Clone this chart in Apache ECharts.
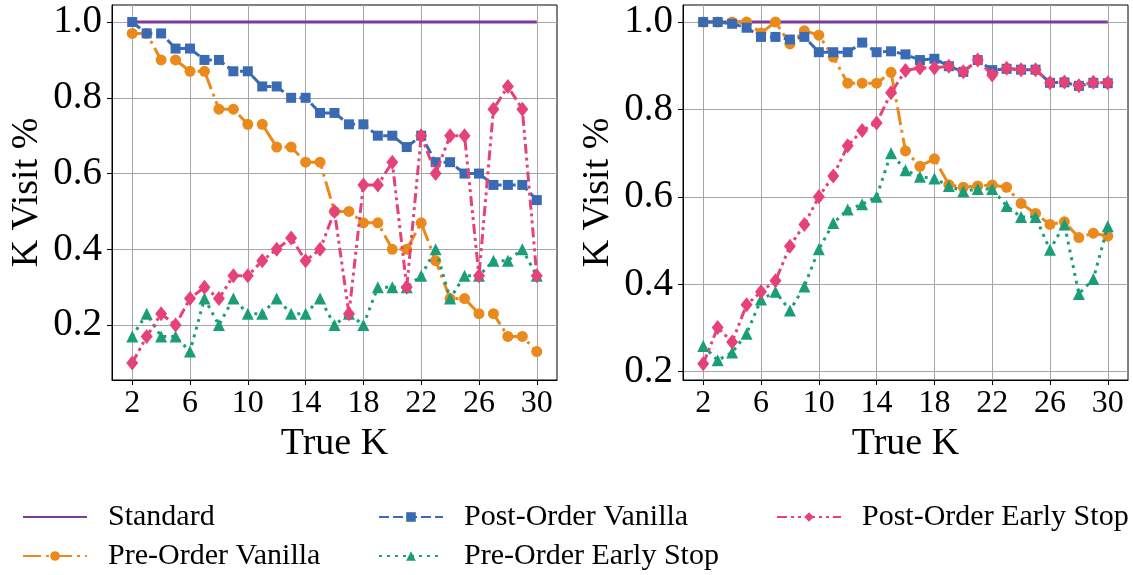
<!DOCTYPE html>
<html>
<head>
<meta charset="utf-8">
<script src="https://cdn.jsdelivr.net/npm/echarts@6/dist/echarts.min.js"></script>
<style>
  html, body { margin: 0; padding: 0; background: #ffffff; }
  #chart { width: 1133px; height: 575px; }
</style>
</head>
<body>
<div id="chart"></div>
<script>
// ---- data ----
const trueK = [2, 3, 4, 5, 6, 7, 8, 9, 10, 11, 12, 13, 14, 15, 16, 17, 18, 19, 20, 21, 22, 23, 24, 25, 26, 27, 28, 29, 30];
const xTicks = [2, 6, 10, 14, 18, 22, 26, 30];
const yTicks = [0.2, 0.4, 0.6, 0.8, 1.0];
const seriesNames = ['Standard', 'Pre-Order Vanilla', 'Post-Order Vanilla', 'Pre-Order Early Stop', 'Post-Order Early Stop'];

// left panel
const leftStandard = [1, 1, 1, 1, 1, 1, 1, 1, 1, 1, 1, 1, 1, 1, 1, 1, 1, 1, 1, 1, 1, 1, 1, 1, 1, 1, 1, 1, 1];
const leftPreVanilla = [0.97, 0.97, 0.90, 0.90, 0.87, 0.87, 0.77, 0.77, 0.73, 0.73, 0.67, 0.67, 0.63, 0.63, 0.50, 0.50, 0.47, 0.47, 0.40, 0.40, 0.47, 0.37, 0.27, 0.27, 0.23, 0.23, 0.17, 0.17, 0.13];
const leftPostVanilla = [1.00, 0.97, 0.97, 0.93, 0.93, 0.90, 0.90, 0.87, 0.87, 0.83, 0.83, 0.80, 0.80, 0.76, 0.76, 0.73, 0.73, 0.70, 0.70, 0.67, 0.70, 0.63, 0.63, 0.60, 0.60, 0.57, 0.57, 0.57, 0.53];
const leftPreEarly = [0.17, 0.23, 0.17, 0.17, 0.13, 0.27, 0.20, 0.27, 0.23, 0.23, 0.27, 0.23, 0.23, 0.27, 0.20, 0.23, 0.20, 0.30, 0.30, 0.30, 0.33, 0.40, 0.27, 0.33, 0.33, 0.37, 0.37, 0.40, 0.33];
const leftPostEarly = [0.10, 0.17, 0.23, 0.20, 0.27, 0.30, 0.27, 0.33, 0.33, 0.37, 0.40, 0.43, 0.37, 0.40, 0.50, 0.23, 0.57, 0.57, 0.63, 0.30, 0.70, 0.60, 0.70, 0.70, 0.33, 0.77, 0.83, 0.77, 0.33];

// right panel
const rightStandard = [1, 1, 1, 1, 1, 1, 1, 1, 1, 1, 1, 1, 1, 1, 1, 1, 1, 1, 1, 1, 1, 1, 1, 1, 1, 1, 1, 1, 1];
const rightPreVanilla = [1.00, 1.00, 1.00, 1.00, 0.975, 1.00, 0.95, 0.98, 0.97, 0.92, 0.86, 0.86, 0.86, 0.885, 0.705, 0.67, 0.687, 0.628, 0.622, 0.625, 0.627, 0.622, 0.585, 0.562, 0.537, 0.543, 0.507, 0.517, 0.51];
const rightPostVanilla = [1.00, 1.00, 0.996, 0.987, 0.966, 0.966, 0.96, 0.966, 0.931, 0.931, 0.931, 0.953, 0.931, 0.933, 0.926, 0.913, 0.916, 0.899, 0.886, 0.913, 0.89, 0.893, 0.891, 0.891, 0.861, 0.862, 0.854, 0.861, 0.86];
const rightPreEarly = [0.259, 0.226, 0.244, 0.287, 0.365, 0.383, 0.34, 0.395, 0.48, 0.54, 0.571, 0.583, 0.60, 0.70, 0.661, 0.646, 0.642, 0.625, 0.613, 0.618, 0.618, 0.579, 0.554, 0.554, 0.479, 0.537, 0.378, 0.412, 0.533];
const rightPostEarly = [0.218, 0.301, 0.268, 0.353, 0.383, 0.408, 0.487, 0.537, 0.60, 0.648, 0.717, 0.752, 0.769, 0.838, 0.889, 0.895, 0.895, 0.899, 0.886, 0.913, 0.879, 0.894, 0.891, 0.891, 0.861, 0.863, 0.854, 0.862, 0.861];

// ---- styling ----
const FONT = 'Liberation Serif';
const styles = [
  { color: '#7D3C98', dash: 'solid', symbol: 'none', size: 0 },
  { color: '#EA8A1C', dash: [18, 5, 3, 5], symbol: 'circle', size: 11 },
  { color: '#3A6AB3', dash: [10, 4], symbol: 'rect', size: 10 },
  { color: '#1B9E77', dash: [3, 5], symbol: 'triangle', size: 12 },
  { color: '#E6427A', dash: [10, 4, 3, 4, 3, 4], symbol: 'diamond', size: [12, 15] }
];

const panels = [
  { left: 112, min: 0.055, max: 1.045, values: [leftStandard, leftPreVanilla, leftPostVanilla, leftPreEarly, leftPostEarly] },
  { left: 683, min: 0.181, max: 1.039, values: [rightStandard, rightPreVanilla, rightPostVanilla, rightPreEarly, rightPostEarly] }
];

const grid = [], xAxis = [], yAxis = [], series = [];
panels.forEach((p, i) => {
  grid.push({ left: p.left, top: 5, width: 445, height: 375, show: true, borderColor: '#000', borderWidth: 1, backgroundColor: 'transparent' });
  xAxis.push({
    type: 'value', gridIndex: i, min: 0.6, max: 31.4,
    name: 'True K', nameLocation: 'middle', nameGap: 36,
    nameTextStyle: { fontFamily: FONT, fontSize: 38, color: '#000' },
    axisLine: { lineStyle: { color: '#000', width: 1 } },
    axisTick: { show: true, customValues: xTicks, length: 5, lineStyle: { color: '#000' } },
    axisLabel: { customValues: xTicks, fontFamily: FONT, fontSize: 32, color: '#000', margin: 8 },
    splitLine: { show: true, lineStyle: { color: '#a6a6a6', width: 1 } }
  });
  yAxis.push({
    type: 'value', gridIndex: i, min: p.min, max: p.max,
    name: 'K Visit %', nameLocation: 'middle', nameGap: 66, nameRotate: 90,
    nameTextStyle: { fontFamily: FONT, fontSize: 38, color: '#000' },
    axisLine: { show: true, lineStyle: { color: '#000', width: 1 } },
    axisTick: { show: true, customValues: yTicks, length: 5, lineStyle: { color: '#000' } },
    axisLabel: { customValues: yTicks, fontFamily: FONT, fontSize: 39, color: '#000', margin: 10,
                 formatter: v => v.toFixed(1) },
    splitLine: { show: true, lineStyle: { color: '#a6a6a6', width: 1 } }
  });
  p.values.forEach((vals, s) => {
    const st = styles[s];
    series.push({
      name: seriesNames[s], type: 'line', xAxisIndex: i, yAxisIndex: i,
      data: trueK.map((k, j) => [k, vals[j]]),
      symbol: st.symbol, symbolSize: st.size, showSymbol: st.symbol !== 'none',
      lineStyle: { color: st.color, width: 3, type: st.dash },
      itemStyle: { color: st.color, borderWidth: 0 },
      z: 2 + s, silent: true
    });
  });
});

// legend: three columns, two rows (column-major order)
const legendPos = [
  { left: 22, top: 502 }, { left: 22, top: 541 },
  { left: 378, top: 502 }, { left: 378, top: 541 },
  { left: 776, top: 502 }
];
const legend = seriesNames.map((n, i) => {
  const item = {
    data: [n], left: legendPos[i].left, top: legendPos[i].top, padding: 0,
    itemWidth: 64, itemHeight: 12, selectedMode: false,
    textStyle: { fontFamily: FONT, fontSize: 30, color: '#000', padding: [0, 0, 0, 16] }
  };
  // plain line swatch for the reference series
  if (styles[i].symbol === 'none') item.itemStyle = { opacity: 0 };
  return item;
});

const chart = echarts.init(document.getElementById('chart'), null, { renderer: 'canvas' });
chart.setOption({ animation: false, backgroundColor: '#ffffff', grid, xAxis, yAxis, series, legend });
</script>
</body>
</html>
